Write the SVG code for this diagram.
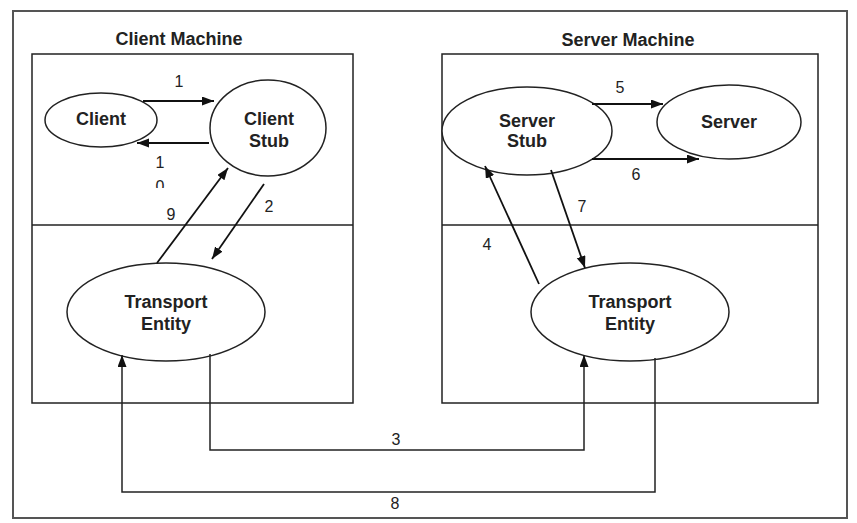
<svg xmlns="http://www.w3.org/2000/svg" width="857" height="523" viewBox="0 0 857 523">
<style>
.frame{fill:none;stroke:#555;stroke-width:2}
.box{fill:none;stroke:#222;stroke-width:1.5}
.node{fill:#fff;stroke:#222;stroke-width:1.5}
.nt{font-family:"Liberation Sans",Arial,sans-serif;font-weight:bold;font-size:18px;fill:#222;text-anchor:middle}
.title{font-family:"Liberation Sans",Arial,sans-serif;font-weight:bold;font-size:18px;fill:#222;text-anchor:middle}
.lbl{font-family:"Liberation Sans",Arial,sans-serif;font-size:16px;fill:#222;text-anchor:middle}
.c{fill:none;stroke:#111;stroke-width:1.8}
.t{fill:none;stroke:#222;stroke-width:1.5}
</style>
<defs>
<marker id="ah" markerUnits="userSpaceOnUse" markerWidth="13" markerHeight="10" refX="12" refY="4.5" orient="auto">
<path d="M0,0 L12,4.5 L0,9 z" fill="#111"/>
</marker>
<clipPath id="cut0"><rect x="140" y="170" width="40" height="18"/></clipPath>
</defs>
<rect width="857" height="523" fill="#fff"/>
<rect class="frame" x="13" y="11" width="834" height="507"/>
<g id="client-machine">
<rect class="box" x="32" y="54" width="321" height="349"/>
<line class="box" x1="32" y1="225" x2="353" y2="225"/>
<text class="title" x="179" y="45">Client Machine</text>
</g>
<g id="server-machine">
<rect class="box" x="442" y="54" width="376" height="349"/>
<line class="box" x1="442" y1="225" x2="818" y2="225"/>
<text class="title" x="628" y="46">Server Machine</text>
</g>
<g id="client">
<ellipse class="node" cx="101" cy="120" rx="56" ry="27"/>
<text class="nt" x="101" y="125">Client</text>
</g>
<g id="client-stub">
<ellipse class="node" cx="268" cy="128" rx="58" ry="48"/>
<text class="nt" x="269" y="125">Client</text>
<text class="nt" x="269" y="147">Stub</text>
</g>
<g id="client-transport">
<ellipse class="node" cx="166" cy="312" rx="99" ry="49"/>
<text class="nt" x="166" y="308">Transport</text>
<text class="nt" x="166" y="330">Entity</text>
</g>
<g id="server-stub">
<ellipse class="node" cx="527" cy="131" rx="85" ry="44"/>
<text class="nt" x="527" y="127">Server</text>
<text class="nt" x="527" y="147">Stub</text>
</g>
<g id="server">
<ellipse class="node" cx="729" cy="122" rx="72" ry="37"/>
<text class="nt" x="729" y="128">Server</text>
</g>
<g id="server-transport">
<ellipse class="node" cx="630" cy="312" rx="99" ry="49"/>
<text class="nt" x="630" y="308">Transport</text>
<text class="nt" x="630" y="330">Entity</text>
</g>
<g id="connectors">
<line class="c" x1="143" y1="101" x2="214" y2="101" marker-end="url(#ah)"/>
<line class="c" x1="209" y1="143" x2="137" y2="143" marker-end="url(#ah)"/>
<line class="c" x1="157" y1="263" x2="228" y2="168" marker-end="url(#ah)"/>
<line class="c" x1="264" y1="184" x2="212" y2="259" marker-end="url(#ah)"/>
<line class="c" x1="592" y1="104" x2="663" y2="104" marker-end="url(#ah)"/>
<line class="c" x1="592" y1="159" x2="699" y2="159" marker-end="url(#ah)"/>
<line class="c" x1="539" y1="284" x2="485" y2="166" marker-end="url(#ah)"/>
<line class="c" x1="551" y1="170" x2="585" y2="268" marker-end="url(#ah)"/>
<polyline class="t" points="210,354 210,450 584,450 584,355" marker-end="url(#ah)"/>
<polyline class="t" points="655,358 655,492 122,492 122,355" marker-end="url(#ah)"/>
<text class="lbl" x="179" y="87">1</text>
<text class="lbl" x="160" y="168">1</text>
<text class="lbl" x="160" y="192" clip-path="url(#cut0)">0</text>
<text class="lbl" x="171" y="220">9</text>
<text class="lbl" x="269" y="212">2</text>
<text class="lbl" x="620" y="93">5</text>
<text class="lbl" x="636" y="180">6</text>
<text class="lbl" x="582" y="212">7</text>
<text class="lbl" x="487" y="250">4</text>
<text class="lbl" x="396" y="445">3</text>
<text class="lbl" x="395" y="509">8</text>
</g>
</svg>
